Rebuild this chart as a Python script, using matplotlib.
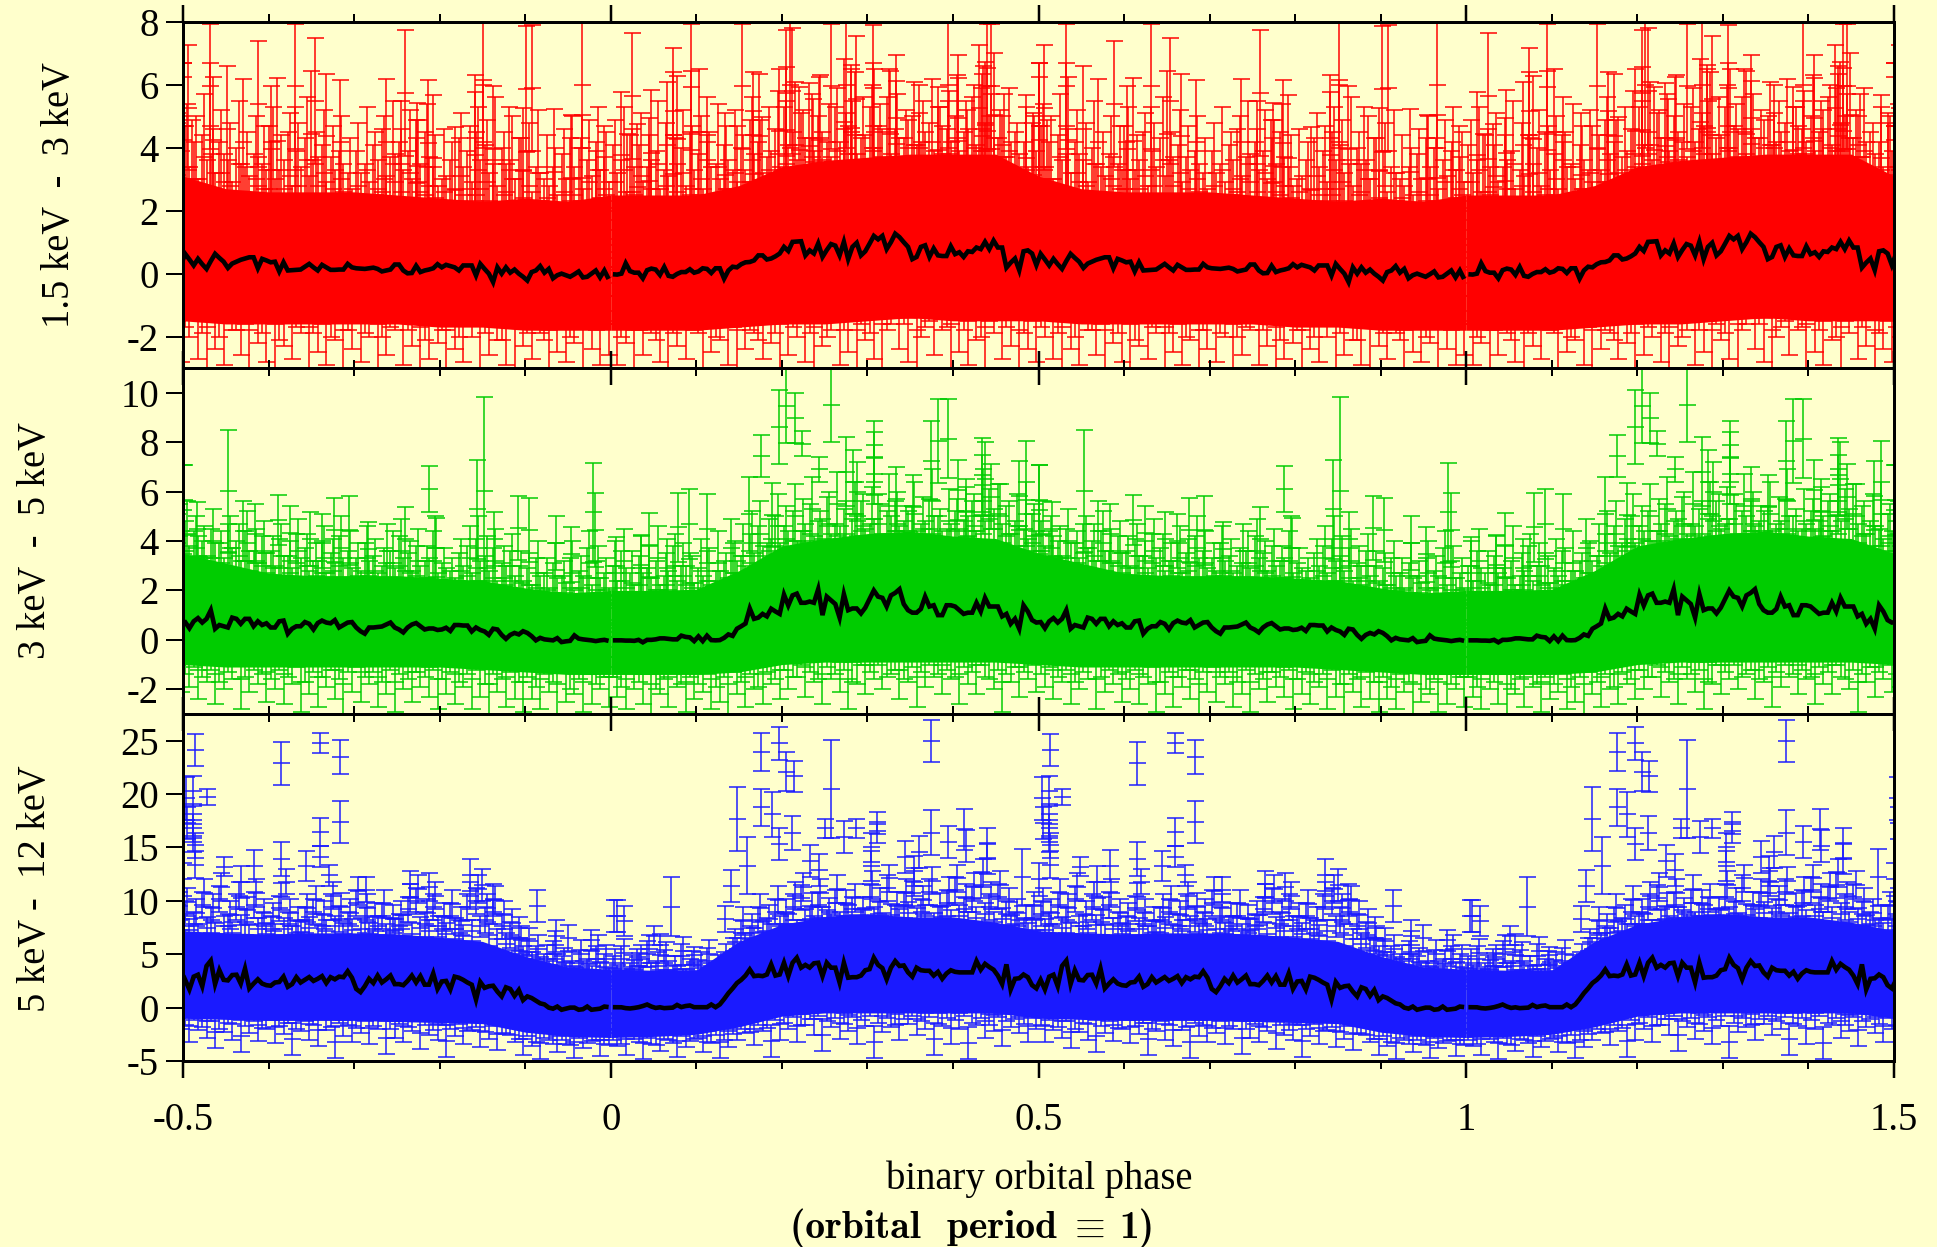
"""
Folded X-ray light curves in three energy bands, plotted over two orbital cycles.
The black lines and the isolated tall bars are read off the picture. The bars in
the dense mesh cannot be told apart there, so those lists are estimated by eye
from the local height and density of the mesh.
"""

import numpy as np
import matplotlib
matplotlib.use("Agg")
import matplotlib.pyplot as plt

plt.rcParams["font.family"] = ["Liberation Serif", "DejaVu Serif"]
plt.rcParams["mathtext.fontset"] = "cm"
plt.rcParams["axes.unicode_minus"] = False

# ─────────────────────────────────────────────
# Data (one orbital cycle, the plot repeats it)
# ─────────────────────────────────────────────
bin_phase = np.arange(200) * 0.005 + 0.0025

red_line = [
    -0.02, -0.03, 0.0, 0.33, 0.08, 0.03, 0.03, -0.15, 0.11, 0.16,
    0.13, -0.04, 0.21, -0.07, -0.10, -0.01, 0.05, 0.05, 0.14, 0.03,
    0.07, 0.17, 0.15, 0.02, 0.17, 0.17, -0.16, 0.10, 0.22, 0.20,
    0.30, 0.36, 0.37, 0.42, 0.58, 0.58, 0.45, 0.48, 0.55, 0.64,
    0.85, 0.72, 1.01, 1.02, 1.03, 0.58, 0.74, 0.64, 0.96, 0.53,
    0.75, 0.94, 0.89, 0.58, 1.01, 0.46, 0.85, 0.98, 0.58, 0.71,
    0.95, 1.20, 1.09, 1.20, 0.78, 1.00, 1.27, 1.16, 1.00, 0.85,
    0.46, 0.53, 0.85, 0.90, 0.53, 0.80, 0.58, 0.56, 0.56, 0.87,
    0.62, 0.68, 0.53, 0.71, 0.69, 0.83, 0.78, 1.01, 0.78, 1.05,
    0.83, 0.83, 0.19, 0.35, 0.48, 0.11, 0.71, 0.74, 0.64, 0.27,
    0.63, 0.45, 0.26, 0.47, 0.30, 0.15, 0.40, 0.63, 0.50, 0.38,
    0.18, 0.32, 0.38, 0.44, 0.48, 0.52, 0.52, 0.17, 0.47, 0.42,
    0.36, 0.38, 0.07, 0.36, 0.10, 0.11, 0.12, 0.13, 0.22, 0.31,
    0.20, 0.10, 0.28, 0.20, 0.12, 0.12, 0.13, 0.13, 0.31, 0.20,
    0.17, 0.16, 0.15, 0.17, 0.19, 0.15, 0.07, 0.10, 0.13, 0.29,
    0.29, 0.10, 0.01, 0.02, 0.25, 0.05, 0.10, 0.13, 0.17, 0.30,
    0.20, 0.28, 0.24, 0.20, 0.10, 0.26, 0.26, 0.26, -0.06, 0.31,
    0.15, 0.0, -0.27, 0.20, 0.0, 0.20, 0.03, 0.13, 0.0, -0.10,
    -0.22, 0.05, 0.10, 0.24, 0.03, 0.15, -0.15, -0.05, 0.0, -0.05,
    -0.10, -0.02, 0.07, -0.12, -0.10, 0.0, 0.10, -0.12, 0.10, -0.17,
]
green_line = [
    -0.02, -0.02, -0.02, -0.03, -0.03, -0.04, 0.0, -0.10, 0.0, 0.0,
    0.02, 0.06, 0.06, 0.04, 0.02, 0.02, 0.17, 0.12, 0.10, -0.05,
    0.14, -0.05, 0.17, -0.01, -0.02, -0.01, 0.08, 0.22, 0.16, 0.45,
    0.55, 0.66, 1.27, 0.85, 0.90, 1.05, 0.95, 1.26, 1.15, 1.05,
    1.83, 1.39, 1.80, 1.87, 1.50, 1.50, 1.55, 1.50, 2.05, 1.00,
    1.75, 1.60, 1.45, 0.90, 1.85, 1.20, 1.27, 1.27, 1.07, 1.30,
    1.65, 2.00, 1.75, 1.70, 1.35, 1.80, 1.90, 2.05, 1.45, 1.20,
    1.10, 1.10, 1.25, 1.75, 1.35, 1.40, 1.00, 1.00, 1.40, 1.40,
    1.35, 1.20, 1.05, 1.10, 1.10, 1.50, 1.15, 1.70, 1.35, 1.35,
    1.35, 0.95, 1.05, 0.65, 0.85, 0.45, 1.40, 1.15, 0.80, 0.70,
    0.72, 0.47, 0.75, 0.88, 0.70, 0.85, 1.20, 0.45, 0.60, 0.55,
    0.50, 0.90, 0.85, 0.65, 0.85, 0.85, 0.55, 0.75, 0.60, 0.67,
    0.50, 0.50, 0.75, 0.78, 0.25, 0.45, 0.55, 0.55, 0.72, 0.65,
    0.42, 0.68, 0.78, 0.70, 0.67, 0.80, 0.50, 0.60, 0.70, 0.72,
    0.50, 0.35, 0.25, 0.50, 0.50, 0.52, 0.54, 0.62, 0.70, 0.50,
    0.42, 0.30, 0.50, 0.62, 0.68, 0.55, 0.42, 0.46, 0.46, 0.40,
    0.42, 0.49, 0.36, 0.60, 0.60, 0.58, 0.58, 0.34, 0.50, 0.40,
    0.34, 0.20, 0.45, 0.42, 0.20, 0.04, 0.20, 0.28, 0.22, 0.35,
    0.28, 0.15, -0.02, 0.08, 0.02, 0.0, -0.02, 0.07, -0.09, -0.06,
    -0.04, 0.18, 0.05, 0.02, 0.0, -0.02, -0.05, -0.02, 0.0, -0.04,
]
blue_line = [
    0.04, 0.04, 0.03, -0.05, -0.08, -0.03, 0.04, 0.15, 0.29, 0.10,
    -0.03, 0.03, -0.05, -0.03, 0.0, 0.25, 0.05, 0.15, 0.20, 0.04,
    0.04, 0.04, 0.04, 0.29, 0.04, 0.30, 0.80, 1.35, 1.80, 2.30,
    2.60, 3.00, 3.57, 2.95, 3.00, 2.95, 3.10, 4.05, 3.00, 3.10,
    4.20, 2.95, 4.20, 4.67, 3.74, 4.00, 3.75, 4.15, 4.20, 2.95,
    4.20, 3.74, 3.74, 2.35, 4.20, 2.80, 2.85, 2.85, 3.00, 3.50,
    3.60, 4.67, 4.00, 3.70, 2.65, 3.74, 4.36, 3.90, 3.95, 3.30,
    2.90, 3.74, 3.50, 3.45, 3.45, 3.00, 3.35, 2.70, 3.20, 3.50,
    3.35, 3.30, 3.30, 3.30, 3.30, 4.36, 3.55, 4.10, 3.80, 3.55,
    3.00, 2.20, 4.05, 1.70, 2.70, 2.75, 3.10, 2.85, 2.10, 1.80,
    2.60, 1.70, 2.90, 3.08, 2.00, 3.90, 4.40, 2.20, 3.50, 2.60,
    2.55, 3.05, 3.08, 2.25, 3.65, 1.80, 2.25, 2.65, 2.25, 2.10,
    2.05, 2.35, 2.40, 2.90, 1.95, 2.20, 2.85, 2.35, 2.60, 2.86,
    2.50, 2.70, 2.95, 2.30, 2.85, 2.65, 2.90, 2.85, 3.40, 2.80,
    1.75, 1.45, 2.00, 2.70, 2.30, 3.00, 2.35, 2.65, 3.00, 2.20,
    2.20, 2.10, 2.50, 3.00, 2.35, 2.95, 2.15, 2.15, 3.20, 1.75,
    2.45, 2.50, 1.70, 2.90, 2.80, 2.60, 2.35, 2.15, 0.75, 2.40,
    1.85, 2.00, 2.05, 1.50, 1.05, 1.90, 1.75, 1.10, 1.65, 0.70,
    1.05, 0.90, 0.65, 0.40, 0.30, 0.0, -0.10, 0.10, -0.20, -0.10,
    0.0, 0.0, -0.20, -0.15, 0.10, -0.20, -0.15, -0.10, 0.10, 0.05,
]

# the solid part of each band, every 0.05 in phase
core_phase = [0.0, 0.05, 0.1, 0.15, 0.2, 0.25, 0.3, 0.35, 0.4, 0.45, 0.5,
              0.55, 0.6, 0.65, 0.7, 0.75, 0.8, 0.85, 0.9, 0.95, 1.0]
red_core_hi = [2.5, 2.5, 2.5, 2.8, 3.4, 3.6, 3.7, 3.8, 3.8, 3.8, 3.1,
               2.7, 2.6, 2.6, 2.6, 2.5, 2.4, 2.3, 2.4, 2.3, 2.5]
red_core_lo = [-1.8, -1.8, -1.8, -1.7, -1.6, -1.6, -1.5, -1.4, -1.5, -1.5, -1.5,
               -1.6, -1.6, -1.6, -1.6, -1.6, -1.7, -1.7, -1.8, -1.8, -1.8]
green_core_hi = [2.0, 2.0, 2.05, 2.8, 3.8, 4.1, 4.3, 4.4, 4.2, 4.1, 3.5,
                 3.1, 2.7, 2.6, 2.6, 2.6, 2.5, 2.4, 2.1, 1.9, 2.0]
green_core_lo = [-1.4, -1.4, -1.4, -1.3, -1.0, -0.9, -0.9, -0.9, -0.9, -0.9, -1.0,
                 -1.1, -1.1, -1.1, -1.1, -1.1, -1.1, -1.2, -1.3, -1.4, -1.4]
blue_core_hi = [3.6, 3.5, 3.5, 6.2, 7.8, 8.5, 8.8, 8.5, 8.5, 8.0, 7.2,
                7.0, 6.9, 7.0, 7.0, 6.9, 6.6, 6.2, 4.8, 3.8, 3.6]
blue_core_lo = [-2.8, -2.7, -2.5, -1.8, -0.8, -0.5, -0.5, -0.5, -0.5, -0.5, -1.0,
                -1.1, -1.2, -1.2, -1.2, -1.3, -1.4, -1.5, -2.3, -2.7, -2.8]

# tall bars that stand clear of the mesh: phase, top end, half length
red_tall_x = [
    0.012, 0.019, 0.025, 0.031, 0.045, 0.047, 0.066, 0.073, 0.073, 0.078, 0.094, 0.094,
    0.103, 0.113, 0.113, 0.134, 0.147, 0.153, 0.166, 0.166, 0.173, 0.177, 0.197, 0.205,
    0.205, 0.209, 0.212, 0.22, 0.232, 0.236, 0.244, 0.258, 0.273, 0.275, 0.281, 0.281,
    0.287, 0.306, 0.306, 0.308, 0.327, 0.333, 0.333, 0.36, 0.36, 0.382, 0.394, 0.394,
    0.406, 0.406, 0.417, 0.431, 0.434, 0.44, 0.437, 0.445, 0.44, 0.448, 0.46, 0.485,
    0.493, 0.5, 0.5, 0.5, 0.506, 0.51, 0.532, 0.532, 0.535, 0.552, 0.57, 0.588,
    0.6, 0.603, 0.61, 0.631, 0.631, 0.65, 0.654, 0.667, 0.684, 0.737, 0.755, 0.759,
    0.772, 0.774, 0.786, 0.792, 0.818, 0.841, 0.841, 0.851, 0.851, 0.862, 0.881, 0.898,
    0.901, 0.908, 0.934, 0.954, 0.966, 0.966, 0.983, 0.992,
]
red_tall_hi = [
    5.78, 4.45, 7.66, 4.75, 4.95, 5.85, 6.10, 7.17, 6.40, 6.28, 7.93, 6.44,
    6.50, 5.62, 4.20, 5.12, 4.70, 7.95, 6.40, 5.16, 6.36, 4.98, 6.52, 7.74,
    6.57, 8.00, 7.80, 5.93, 6.07, 5.56, 6.25, 7.95, 6.83, 8.00, 6.64, 6.50,
    7.55, 7.90, 6.70, 6.50, 6.44, 6.96, 6.13, 6.00, 5.10, 5.93, 8.00, 5.48,
    6.96, 6.22, 5.20, 7.26, 6.36, 7.95, 6.73, 7.95, 6.54, 7.03, 5.72, 5.67,
    5.12, 6.70, 6.69, 6.24, 7.28, 4.87, 7.95, 6.69, 6.24, 6.60, 6.18, 7.40,
    4.70, 5.96, 6.23, 7.95, 5.30, 6.43, 7.48, 6.36, 6.17, 6.20, 5.50, 7.73,
    4.87, 5.43, 6.15, 5.69, 4.66, 6.30, 5.77, 8.00, 6.17, 5.97, 5.30, 5.26,
    7.87, 7.90, 5.24, 5.03, 8.00, 5.03, 4.20, 4.70,
]
RED_ERR = 2.0

green_tall_x = [
    0.006, 0.035, 0.045, 0.066, 0.079, 0.092, 0.113, 0.14, 0.162, 0.176, 0.188, 0.197,
    0.205, 0.215, 0.223, 0.244, 0.258, 0.275, 0.283, 0.288, 0.308, 0.308, 0.308, 0.333,
    0.353, 0.374, 0.382, 0.394, 0.406, 0.415, 0.434, 0.437, 0.434, 0.477, 0.485, 0.501,
    0.5, 0.516, 0.553, 0.57, 0.584, 0.611, 0.625, 0.648, 0.662, 0.676, 0.694, 0.716,
    0.739, 0.759, 0.787, 0.796, 0.844, 0.852, 0.863, 0.891, 0.904, 0.936, 0.953, 0.979,
    0.982,
]
green_tall_hi = [
    4.18, 4.23, 5.14, 4.10, 5.95, 6.09, 5.89, 4.90, 6.59, 8.30, 6.36, 10.1,
    10.97, 9.98, 8.44, 7.40, 11.0, 8.20, 7.70, 7.20, 8.85, 8.40, 7.90, 7.00,
    6.68, 8.85, 9.76, 9.73, 7.26, 6.18, 8.17, 8.00, 7.46, 7.23, 8.04, 7.06,
    7.06, 5.57, 8.48, 5.60, 5.50, 5.88, 5.41, 5.17, 5.10, 5.74, 5.84, 4.77,
    4.70, 5.37, 7.02, 4.93, 7.29, 9.83, 5.17, 5.82, 5.75, 5.03, 4.56, 7.17,
    5.94,
]
green_tall_err = [
    1.2, 1.2, 1.3, 1.2, 1.4, 1.4, 1.4, 1.2, 1.5, 0.85, 1.3, 1.5,
    1.5, 1.0, 0.5, 0.5, 1.5, 1.4, 1.3, 1.2, 1.5, 1.0, 1.2, 1.3,
    1.3, 1.6, 1.7, 1.6, 1.2, 1.0, 1.5, 1.5, 1.2, 1.4, 2.4, 1.4,
    1.8, 1.1, 2.46, 1.2, 1.2, 1.02, 1.1, 1.1, 1.1, 1.3, 1.4, 1.1,
    1.1, 1.3, 0.92, 1.2, 2.0, 3.8, 1.1, 1.3, 1.3, 1.1, 1.1, 2.0,
    1.5,
]

blue_tall_x = [
    0.004, 0.007, 0.016, 0.031, 0.051, 0.057, 0.071, 0.097, 0.134, 0.14, 0.147, 0.159,
    0.176, 0.176, 0.188, 0.197, 0.197, 0.205, 0.212, 0.214, 0.233, 0.244, 0.251, 0.258,
    0.273, 0.287, 0.304, 0.304, 0.311, 0.311, 0.344, 0.354, 0.36, 0.374, 0.374, 0.394,
    0.413, 0.415, 0.44, 0.44, 0.481, 0.5, 0.504, 0.505, 0.512, 0.512, 0.512, 0.512,
    0.514, 0.514, 0.514, 0.528, 0.548, 0.568, 0.583, 0.615, 0.615, 0.62, 0.644, 0.66,
    0.66, 0.66, 0.671, 0.683, 0.683, 0.714, 0.765, 0.788, 0.835, 0.85, 0.862, 0.893,
    0.914, 0.936, 0.95, 0.977,
]
blue_tall_hi = [
    10.05, 10.1, 9.5, 5.5, 7.65, 6.9, 12.2, 5.7, 9.5, 12.9, 20.7, 16.0,
    25.7, 20.5, 20.2, 26.3, 16.8, 23.9, 17.9, 23.1, 15.25, 14.4, 17.7, 25.1,
    17.45, 17.7, 16.4, 14.7, 18.3, 17.2, 15.6, 14.2, 16.1, 26.9, 18.5, 17.0,
    18.6, 16.6, 16.8, 15.3, 14.9, 13.5, 21.6, 18.75, 21.7, 19.1, 18.1, 17.2,
    25.65, 16.4, 14.7, 20.5, 14.1, 13.3, 14.8, 24.87, 15.5, 13.0, 14.7, 25.74,
    17.75, 15.15, 13.4, 25.1, 19.38, 12.25, 12.8, 12.6, 13.9, 12.95, 11.55, 8.5,
    11.0, 8.25, 7.7, 7.3,
]
blue_tall_err = [
    1.5, 1.5, 1.4, 0.8, 0.9, 1.0, 2.75, 0.8, 1.2, 1.5, 3.0, 2.7,
    1.75, 1.75, 2.1, 1.55, 1.5, 1.8, 1.55, 1.45, 1.5, 1.5, 0.9, 4.6,
    1.5, 0.9, 1.4, 1.4, 0.9, 0.9, 1.5, 1.4, 1.5, 1.95, 2.1, 1.5,
    1.9, 1.5, 1.4, 1.4, 2.7, 1.5, 2.0, 1.5, 1.4, 1.5, 1.3, 1.3,
    1.5, 1.2, 1.3, 0.78, 0.9, 1.5, 1.5, 2.0, 1.6, 1.2, 1.4, 0.95,
    1.3, 1.0, 1.0, 1.63, 1.96, 1.2, 1.2, 1.3, 1.5, 1.5, 1.5, 1.0,
    1.5, 1.5, 1.2, 1.0,
]

# top ends of the mesh bars, one per 0.01 in phase
red_mesh_hi = [
    4.1, 3.6, 4.4, 4.1, 3.4, 3.9, 3.3, 4.4, 4.0, 4.5,
    3.8, 4.4, 3.5, 4.1, 3.3, 4.0, 4.9, 4.2, 3.7, 4.6,
    5.3, 4.5, 5.1, 4.3, 5.0, 4.2, 5.3, 4.6, 5.5, 4.3,
    5.3, 4.7, 5.6, 4.6, 4.3, 5.0, 4.2, 4.8, 5.3, 4.6,
    5.0, 4.5, 5.6, 5.9, 5.0, 4.3, 3.7, 4.5, 4.2, 4.8,
    4.7, 4.2, 4.4, 3.8, 4.2, 3.6, 4.0, 3.4, 3.8, 3.5,
    4.2, 3.3, 4.5, 3.9, 4.3, 3.6, 4.1, 3.7, 3.9, 3.2,
    3.9, 3.5, 4.1, 4.6, 3.7, 4.2, 3.9, 4.3, 4.5, 3.4,
    3.0, 3.6, 4.3, 3.9, 4.5, 4.1, 3.5, 4.0, 3.6, 4.3,
    3.9, 3.4, 3.0, 3.4, 3.8, 4.3, 4.0, 3.6, 3.9, 3.7,
]
red_mesh2_hi = [
    3.2, 2.6, 3.4, 2.9, 3.6, 2.7, 3.1, 3.5, 2.8, 3.3,
    2.7, 3.4, 3.0, 3.6, 2.9, 3.3, 3.8, 3.2, 3.9, 3.4,
    4.1, 3.6, 4.3, 3.9, 4.5, 3.7, 4.2, 4.7, 3.8, 4.4,
    4.0, 4.6, 3.8, 4.3, 4.9, 4.1, 4.5, 3.9, 4.7, 4.2,
    3.9, 4.6, 4.1, 4.8, 4.3, 5.0, 4.2, 3.8, 3.4, 3.9,
    3.4, 3.0, 3.6, 3.2, 3.8, 2.9, 3.5, 3.1, 3.7, 3.3,
    3.0, 3.6, 2.8, 3.4, 3.1, 3.7, 2.9, 3.3, 3.5, 2.7,
    3.2, 2.9, 3.6, 3.1, 3.8, 3.3, 3.0, 3.5, 3.7, 2.8,
    3.1, 2.7, 3.4, 2.9, 3.6, 3.2, 2.8, 3.5, 3.0, 3.3,
    2.6, 3.2, 2.8, 2.5, 3.0, 3.4, 2.7, 3.1, 3.3, 2.9,
]
red_mesh3_hi = [
    4.9, 5.3, 4.6, 5.1, 4.4, 5.5, 4.8, 4.3, 5.2, 4.7,
    5.0, 4.5, 5.4, 4.7, 5.2, 4.4, 5.6, 4.9, 5.3, 5.8,
    5.5, 6.1, 5.2, 5.7, 6.3, 5.4, 5.9, 5.1, 6.4, 5.6,
    6.0, 5.4, 6.5, 5.7, 5.2, 6.1, 5.5, 6.2, 5.3, 5.8,
    6.3, 5.5, 6.0, 6.6, 5.7, 5.2, 5.9, 4.8, 5.3, 5.0,
    5.4, 5.0, 5.7, 4.6, 5.2, 4.8, 5.5, 4.5, 5.0, 4.7,
    5.3, 4.4, 5.1, 4.8, 5.6, 4.5, 5.2, 4.7, 5.0, 4.3,
    4.8, 5.3, 4.5, 5.0, 5.5, 4.6, 5.2, 4.9, 5.4, 4.4,
    4.6, 4.2, 5.1, 4.7, 5.3, 4.9, 5.6, 4.5, 5.0, 4.3,
    4.8, 5.2, 4.4, 4.0, 4.6, 5.0, 4.3, 4.9, 5.3, 4.5,
]
green_mesh_hi = [
    3.0, 3.6, 2.7, 3.4, 2.9, 3.2, 2.6, 3.8, 3.0, 3.5,
    2.9, 3.6, 2.8, 3.2, 3.9, 3.4, 4.3, 4.6, 3.9, 5.0,
    4.6, 5.2, 4.4, 5.5, 4.8, 5.8, 4.7, 5.3, 4.9, 5.6,
    4.7, 5.9, 5.2, 5.6, 4.8, 5.4, 4.7, 5.7, 5.0, 4.5,
    5.2, 4.8, 5.6, 5.0, 6.1, 6.3, 5.4, 4.8, 4.5, 5.1,
    4.8, 4.4, 4.0, 4.5, 3.9, 4.7, 4.0, 4.4, 3.6, 4.2,
    3.6, 4.1, 3.4, 4.3, 3.7, 3.2, 3.9, 3.5, 4.2, 3.6,
    3.3, 3.9, 3.4, 3.0, 3.6, 4.2, 3.5, 3.8, 3.2, 4.4,
    3.1, 2.8, 3.5, 3.8, 4.1, 3.4, 3.7, 3.1, 3.6, 3.0,
    2.9, 3.3, 2.7, 3.1, 2.6, 3.3, 2.8, 3.7, 3.2, 2.7,
]
green_mesh2_hi = [
    2.4, 2.9, 2.2, 2.7, 2.5, 2.2, 2.8, 2.4, 3.0, 2.3,
    2.6, 2.2, 2.8, 2.5, 3.2, 3.0, 3.5, 3.8, 4.1, 3.9,
    4.4, 4.0, 4.7, 4.2, 4.9, 4.3, 4.6, 4.1, 5.0, 4.5,
    4.9, 4.3, 5.0, 4.6, 5.2, 4.4, 4.8, 5.0, 4.4, 4.7,
    4.5, 5.0, 4.4, 4.8, 5.3, 4.7, 4.3, 4.6, 4.1, 4.4,
    3.8, 4.2, 3.4, 3.9, 3.3, 3.7, 3.2, 3.6, 3.1, 3.5,
    3.0, 3.4, 2.9, 3.3, 2.8, 3.2, 2.7, 3.1, 3.3, 2.9,
    2.8, 3.2, 2.7, 3.1, 2.9, 3.3, 2.8, 3.0, 3.3, 2.7,
    2.9, 2.5, 3.0, 2.7, 3.2, 2.8, 2.4, 3.0, 2.6, 2.4,
    2.2, 2.6, 2.1, 2.5, 2.3, 2.0, 2.6, 2.2, 2.5, 2.1,
]
green_mesh3_hi = [
    4.0, 4.5, 3.6, 4.2, 3.8, 4.6, 3.5, 4.3, 3.9, 3.4,
    4.1, 3.7, 4.4, 3.5, 4.0, 4.7, 5.2, 5.6, 4.9, 5.9,
    5.4, 6.3, 5.7, 6.6, 5.2, 6.0, 6.8, 5.6, 6.4, 5.9,
    6.2, 5.5, 6.7, 6.0, 5.4, 6.4, 5.8, 6.9, 5.3, 6.1,
    5.7, 6.5, 5.9, 6.9, 7.1, 6.3, 5.6, 5.9, 6.4, 5.5,
    5.6, 5.0, 4.6, 5.3, 4.4, 5.0, 4.7, 5.2, 4.5, 4.8,
    4.2, 4.7, 4.0, 4.9, 4.3, 3.9, 4.6, 4.1, 5.0, 4.4,
    3.9, 4.6, 4.1, 3.7, 4.4, 4.9, 4.0, 4.5, 3.8, 5.0,
    3.7, 3.3, 4.1, 4.6, 5.0, 4.2, 4.5, 3.8, 4.3, 3.6,
    3.5, 4.0, 3.3, 3.9, 3.2, 4.0, 3.4, 4.4, 3.8, 3.3,
]
blue_mesh_hi = [
    4.8, 5.8, 4.2, 5.1, 6.2, 4.4, 5.4, 4.0, 6.0, 4.6,
    4.5, 5.6, 4.2, 5.2, 6.5, 8.2, 7.6, 9.4, 8.4, 10.2,
    9.0, 10.6, 11.5, 9.5, 10.8, 9.1, 11.0, 9.8, 10.4, 9.2,
    11.6, 10.0, 12.4, 9.6, 10.8, 11.9, 10.2, 12.0, 9.5, 11.0,
    12.2, 10.4, 11.4, 12.7, 10.6, 11.6, 10.0, 9.0, 8.4, 9.6,
    10.0, 9.0, 10.8, 9.4, 11.4, 8.8, 10.6, 9.2, 10.8, 9.0,
    8.6, 10.5, 9.0, 8.2, 9.4, 10.2, 8.8, 10.6, 9.5, 9.0,
    11.0, 9.4, 8.6, 9.8, 8.4, 8.8, 10.4, 11.2, 9.0, 10.6,
    8.6, 9.8, 8.2, 10.6, 11.2, 9.4, 10.2, 8.8, 8.0, 6.5,
    6.4, 5.8, 5.0, 6.2, 4.8, 4.4, 5.4, 4.6, 5.8, 5.0,
]
blue_mesh2_hi = [
    4.0, 3.6, 4.5, 3.8, 4.2, 3.5, 4.4, 3.9, 3.6, 4.3,
    3.7, 4.2, 3.8, 5.0, 6.5, 7.0, 7.5, 8.1, 7.8, 8.6,
    8.8, 8.2, 9.2, 8.6, 9.4, 8.8, 9.0, 9.6, 8.7, 9.3,
    9.4, 8.9, 9.7, 9.2, 9.9, 9.3, 9.6, 8.9, 9.5, 9.1,
    9.6, 9.0, 9.4, 9.8, 9.0, 9.3, 8.7, 8.2, 7.9, 8.3,
    8.3, 7.8, 8.5, 7.9, 8.6, 8.0, 8.7, 7.7, 8.4, 7.9,
    7.8, 8.4, 7.6, 8.1, 8.5, 7.7, 8.2, 8.6, 7.9, 8.3,
    8.4, 7.9, 8.6, 7.8, 8.3, 8.7, 7.9, 8.5, 8.2, 8.6,
    7.9, 8.4, 7.7, 8.2, 8.6, 7.8, 7.4, 7.0, 6.4, 5.8,
    5.2, 4.7, 4.4, 5.0, 4.2, 3.8, 4.4, 3.9, 4.3, 3.7,
]
blue_mesh3_hi = [
    5.5, 6.4, 4.9, 5.9, 6.8, 5.2, 6.1, 4.8, 6.6, 5.3,
    5.2, 6.3, 4.9, 6.0, 7.4, 9.4, 8.8, 10.6, 9.6, 11.4,
    10.2, 11.8, 12.6, 10.7, 12.0, 10.3, 12.4, 11.0, 11.6, 10.4,
    12.8, 11.2, 13.4, 10.8, 12.0, 13.1, 11.4, 13.2, 10.7, 12.2,
    13.4, 11.6, 12.6, 13.9, 11.8, 12.8, 11.2, 10.2, 9.6, 10.8,
    11.2, 10.2, 12.0, 10.6, 12.6, 10.0, 11.8, 10.4, 12.0, 10.2,
    9.8, 11.7, 10.2, 9.4, 10.6, 11.4, 10.0, 11.8, 10.7, 10.2,
    12.2, 10.6, 9.8, 11.0, 9.6, 10.0, 11.6, 12.4, 10.2, 11.8,
    9.8, 11.0, 9.4, 11.8, 12.4, 10.6, 11.4, 10.0, 9.2, 7.6,
    7.5, 6.8, 5.9, 7.2, 5.6, 5.2, 6.3, 5.4, 6.8, 5.9,
]
RED_MESH2_ERR = 0.9
GREEN_MESH_ERR = 1.2
GREEN_MESH2_ERR = 0.8
GREEN_MESH3_ERR = 1.3
BLUE_MESH_ERR = 1.2
BLUE_MESH2_ERR = 1.0
BLUE_MESH3_ERR = 1.3

# bottom ends of the mesh bars, one per 0.01 in phase
red_low = [
    -2.9, -2.2, -3.2, -2.6, -1.9, -2.8, -3.1, -2.3, -2.7, -1.8,
    -3.0, -2.5, -2.1, -2.9, -3.2, -2.4, -1.9, -2.7, -2.2, -3.0,
    -2.6, -2.0, -2.8, -3.1, -2.3, -1.8, -2.9, -2.5, -3.2, -2.1,
    -2.7, -3.0, -1.6, -2.4, -2.8, -3.2, -1.7, -2.6, -1.8, -3.0,
    -2.5, -2.9, -2.1, -3.1, -1.9, -2.7, -2.3, -3.2, -2.4, -2.8,
    -2.0, -2.7, -3.1, -2.4, -2.9, -1.8, -2.6, -3.2, -2.2, -2.8,
    -3.0, -2.3, -2.7, -1.9, -3.1, -2.5, -2.9, -2.1, -3.2, -2.4,
    -2.8, -2.0, -3.0, -2.6, -1.8, -2.9, -2.3, -3.1, -2.7, -2.2,
    -3.2, -2.4, -2.8, -2.0, -3.0, -2.6, -2.1, -2.9, -3.1, -2.3,
    -2.7, -1.9, -3.2, -2.5, -2.8, -2.2, -3.0, -2.4, -2.9, -2.6,
]
red_low2 = [
    -1.6, -2.0, -1.3, -1.8, -1.5, -2.1, -1.4, -1.9, -1.7, -1.3,
    -1.9, -1.5, -2.0, -1.4, -1.7, -1.3, -1.8, -2.1, -1.5, -1.9,
    -1.3, -1.7, -1.2, -1.9, -1.5, -2.0, -1.4, -1.8, -1.3, -1.6,
    -1.9, -1.4, -1.8, -1.2, -1.6, -1.3, -2.0, -1.5, -1.2, -1.7,
    -1.4, -1.8, -1.3, -2.0, -1.5, -1.2, -1.7, -1.4, -1.9, -1.5,
    -1.7, -1.3, -1.9, -1.5, -2.0, -1.4, -1.8, -1.6, -1.3, -1.9,
    -1.5, -2.1, -1.4, -1.7, -1.3, -1.9, -1.6, -2.0, -1.4, -1.8,
    -1.3, -1.9, -1.5, -2.0, -1.7, -1.4, -1.8, -1.6, -2.1, -1.5,
    -1.8, -1.4, -2.0, -1.6, -1.3, -1.9, -1.5, -2.1, -1.7, -1.4,
    -1.9, -1.5, -2.1, -1.6, -1.4, -2.0, -1.7, -1.3, -1.8, -1.6,
]
green_low = [
    -2.3, -2.8, -2.0, -2.6, -3.0, -2.2, -2.7, -1.9, -2.9, -2.4,
    -2.1, -2.8, -2.5, -3.0, -2.2, -2.7, -2.0, -2.6, -1.8, -2.4,
    -2.0, -1.5, -2.3, -1.7, -2.6, -1.6, -2.1, -2.8, -1.8, -2.2,
    -1.6, -2.0, -1.4, -2.4, -1.7, -2.7, -1.9, -1.5, -2.2, -1.6,
    -2.6, -1.8, -2.2, -1.5, -2.0, -2.9, -1.7, -2.3, -1.6, -2.1,
    -1.9, -2.4, -1.7, -2.6, -2.0, -1.6, -2.8, -2.1, -1.8, -2.5,
    -2.0, -2.6, -1.8, -2.9, -2.2, -2.7, -1.9, -2.4, -3.0, -2.1,
    -2.5, -1.8, -2.7, -2.2, -2.9, -2.0, -2.5, -1.9, -2.3, -2.8,
    -2.2, -2.6, -1.9, -2.8, -2.3, -3.0, -2.1, -2.7, -2.4, -2.9,
    -2.4, -2.8, -2.1, -3.0, -2.5, -2.2, -2.9, -2.6, -2.0, -2.7,
]
green_low2 = [
    -1.5, -1.9, -1.3, -1.7, -1.4, -2.0, -1.6, -1.3, -1.8, -1.5,
    -1.8, -1.4, -1.9, -1.5, -1.3, -1.7, -1.4, -1.9, -1.3, -1.6,
    -1.2, -1.5, -1.0, -1.3, -1.6, -1.1, -1.4, -1.2, -1.7, -1.0,
    -1.3, -1.0, -1.5, -1.2, -1.6, -1.1, -1.3, -1.0, -1.4, -1.2,
    -1.5, -1.1, -1.3, -1.0, -1.6, -1.2, -1.4, -1.1, -1.3, -1.0,
    -1.4, -1.1, -1.5, -1.2, -1.7, -1.3, -1.0, -1.5, -1.2, -1.4,
    -1.6, -1.2, -1.5, -1.1, -1.7, -1.3, -1.5, -1.2, -1.6, -1.3,
    -1.1, -1.5, -1.3, -1.7, -1.2, -1.4, -1.6, -1.3, -1.5, -1.2,
    -1.6, -1.3, -1.7, -1.4, -1.2, -1.8, -1.4, -1.6, -1.3, -1.7,
    -1.5, -1.9, -1.4, -1.7, -1.3, -2.0, -1.6, -1.4, -1.8, -1.5,
]
blue_low = [
    -3.6, -4.4, -2.9, -4.8, -3.4, -4.1, -3.0, -4.6, -3.7, -2.9,
    -4.2, -3.3, -4.7, -3.7, -3.0, -2.4, -3.5, -2.2, -4.6, -3.0,
    -2.0, -3.2, -1.6, -2.6, -4.1, -1.8, -2.9, -2.2, -3.4, -1.7,
    -4.7, -2.3, -1.8, -3.0, -1.5, -2.6, -2.0, -4.4, -1.7, -3.4,
    -2.0, -4.8, -1.6, -2.8, -2.2, -3.6, -1.8, -2.4, -3.2, -2.0,
    -3.2, -2.1, -2.8, -3.8, -2.3, -3.0, -4.2, -2.4, -3.1, -2.0,
    -3.3, -2.5, -4.4, -2.2, -3.0, -3.6, -2.1, -4.7, -2.7, -3.2,
    -2.4, -3.4, -2.0, -4.3, -2.8, -3.2, -2.2, -3.9, -2.6, -3.0,
    -4.6, -2.7, -3.4, -2.1, -3.7, -2.9, -4.0, -2.5, -3.2, -4.4,
    -3.6, -4.8, -3.0, -4.2, -3.4, -4.7, -3.8, -3.1, -4.5, -3.5,
]
blue_low2 = [
    -3.0, -3.4, -2.7, -3.2, -2.8, -3.5, -2.9, -3.3, -2.7, -3.1,
    -2.8, -3.2, -2.6, -3.0, -2.5, -2.0, -2.3, -1.6, -1.9, -1.2,
    -1.4, -0.9, -1.6, -1.1, -0.8, -1.3, -1.0, -1.5, -0.9, -1.2,
    -0.8, -1.4, -1.0, -1.6, -1.1, -0.8, -1.3, -0.9, -1.5, -1.0,
    -1.2, -0.8, -1.4, -1.0, -1.6, -0.9, -1.3, -1.1, -1.5, -1.0,
    -1.6, -1.2, -1.8, -1.3, -2.0, -1.4, -1.1, -1.7, -1.3, -1.9,
    -1.2, -1.7, -1.4, -2.0, -1.3, -1.6, -1.1, -1.8, -1.4, -1.6,
    -1.9, -1.3, -1.7, -1.2, -2.0, -1.5, -1.8, -1.3, -1.6, -2.1,
    -1.6, -2.0, -1.5, -2.2, -1.8, -2.3, -1.7, -2.4, -2.6, -2.9,
    -2.7, -3.2, -2.8, -3.4, -3.0, -3.5, -2.8, -3.3, -3.0, -3.4,
]
RED_LOW_ERR = 1.4
RED_LOW2_ERR = 0.9
GREEN_LOW_ERR = 1.2
GREEN_LOW2_ERR = 0.8
BLUE_LOW_ERR = 1.5
BLUE_LOW2_ERR = 1.0

band_labels = ["1.5 keV  -  3 keV", "3 keV  -  5 keV", "5 keV -  12 keV"]
red_yticks = [8, 6, 4, 2, 0, -2]
green_yticks = [10, 8, 6, 4, 2, 0, -2]
blue_yticks = [25, 20, 15, 10, 5, 0, -5]
x_major = [-0.5, 0, 0.5, 1, 1.5]
x_labels = ["-0.5", "0", "0.5", "1", "1.5"]

# ─────────────────────────────────────────────
# Style
# ─────────────────────────────────────────────
W, H = 1937, 1247
BG = "#ffffcc"
RED, GREEN, BLUE = "#ff0000", "#00cc00", "#1a1aff"
LEFT, RIGHT = 183, 1894
TOPS = [22, 368, 714]
BOTTOMS = [368, 714, 1061]
PX = 0.72  # points per pixel at dpi 100
CYCLES = (-1, 0, 1)
TEXT_SIZE = 27.8
TITLE_SIZE = 28.5


def draw_bars(ax, x, y, err, color):
    x, y = np.asarray(x, float), np.asarray(y, float)
    for cycle in CYCLES:
        ax.errorbar(x + cycle, y, yerr=err, fmt="none", ecolor=color,
                    elinewidth=1.5 * PX, capsize=8.5 * PX, capthick=1.5 * PX)
        ax.plot(x + cycle, y, ls="none", marker="_", color=color,
                ms=17 * PX, mew=1.5 * PX)


def draw_panel(ax, color, core, tall, upper, lower, line):
    for cycle in CYCLES:
        ax.fill_between(np.array(core_phase) + cycle, core[1], core[0],
                        color=color, lw=0, zorder=2.5)
    tall_x, tall_hi, tall_err = tall
    draw_bars(ax, tall_x, np.array(tall_hi) - np.array(tall_err), tall_err, color)
    # each list sits on its own bins so the caps do not line up
    upper_grids = (bin_phase[::2], bin_phase[1::2], bin_phase[::2] + 0.0025)
    for grid, (hi, err) in zip(upper_grids, upper):
        draw_bars(ax, grid, np.array(hi) - err, err, color)
    for grid, (lo, err) in zip((bin_phase[1::2], bin_phase[::2]), lower):
        draw_bars(ax, grid, np.array(lo) + err, err, color)
    for cycle in CYCLES:
        ax.plot(bin_phase + cycle, line, color="black", lw=4.6 * PX, zorder=5,
                solid_capstyle="butt", solid_joinstyle="miter")


# ─────────────────────────────────────────────
# Figure
# ─────────────────────────────────────────────
fig = plt.figure(figsize=(W / 100, H / 100), dpi=100, facecolor=BG)
axes = []
for top, bottom in zip(TOPS, BOTTOMS):
    ax = fig.add_axes([LEFT / W, 1 - bottom / H, (RIGHT - LEFT) / W, (bottom - top) / H])
    ax.set_facecolor("none")
    axes.append(ax)

draw_panel(axes[0], RED, (red_core_hi, red_core_lo),
           (red_tall_x, red_tall_hi, [RED_ERR] * len(red_tall_x)),
           [(red_mesh_hi, RED_ERR), (red_mesh2_hi, RED_MESH2_ERR), (red_mesh3_hi, RED_ERR)],
           [(red_low, RED_LOW_ERR), (red_low2, RED_LOW2_ERR)], red_line)
draw_panel(axes[1], GREEN, (green_core_hi, green_core_lo),
           (green_tall_x, green_tall_hi, green_tall_err),
           [(green_mesh_hi, GREEN_MESH_ERR), (green_mesh2_hi, GREEN_MESH2_ERR),
            (green_mesh3_hi, GREEN_MESH3_ERR)],
           [(green_low, GREEN_LOW_ERR), (green_low2, GREEN_LOW2_ERR)], green_line)
draw_panel(axes[2], BLUE, (blue_core_hi, blue_core_lo),
           (blue_tall_x, blue_tall_hi, blue_tall_err),
           [(blue_mesh_hi, BLUE_MESH_ERR), (blue_mesh2_hi, BLUE_MESH2_ERR),
            (blue_mesh3_hi, BLUE_MESH3_ERR)],
           [(blue_low, BLUE_LOW_ERR), (blue_low2, BLUE_LOW2_ERR)], blue_line)

limits = [(-3, 8), (-3, 11), (-5, 27.5)]
yticks = [red_yticks, green_yticks, blue_yticks]
for ax, lim, ticks in zip(axes, limits, yticks):
    ax.set_xlim(-0.5, 1.5)
    ax.set_ylim(*lim)
    ax.set_yticks(ticks)
    ax.set_yticklabels([str(t) for t in ticks], fontsize=TEXT_SIZE)
    ax.set_xticks(x_major)
    ax.set_xticks(np.arange(-5, 16) / 10, minor=True)
    ax.tick_params(axis="x", which="major", direction="out", length=17 * PX, width=2.5 * PX,
                   top=True, bottom=True, labelbottom=False, color="black", zorder=6)
    ax.tick_params(axis="x", which="minor", direction="out", length=8 * PX, width=2 * PX,
                   top=True, bottom=True, zorder=6)
    ax.tick_params(axis="y", direction="out", length=17 * PX, width=2 * PX, pad=5, zorder=6)
    ax.set_axisbelow(False)
    for side in ax.spines.values():
        side.set_linewidth(3 * PX)
        side.set_zorder(7)

axes[2].set_xticklabels(x_labels, fontsize=TEXT_SIZE)
axes[2].tick_params(axis="x", which="major", labelbottom=True, pad=17)

fig.text(59 / W, 1 - 195 / H, band_labels[0], rotation=90, ha="center", va="center", fontsize=TEXT_SIZE)
fig.text(36 / W, 1 - 541 / H, band_labels[1], rotation=90, ha="center", va="center", fontsize=TEXT_SIZE)
fig.text(36 / W, 1 - 889 / H, band_labels[2], rotation=90, ha="center", va="center", fontsize=TEXT_SIZE)
fig.text(1039 / W, 1 - 1179 / H, "binary orbital phase", ha="center", va="center", fontsize=TEXT_SIZE)

# three pieces: cmb10 has no identity sign
fig.text(790 / W, 1 - 1228 / H, "(orbital  period", family="cmb10", ha="left", va="center", fontsize=TITLE_SIZE)
fig.text(1087 / W, 1 - 1228 / H, r"$\equiv$", ha="center", va="center", fontsize=TITLE_SIZE)
fig.text(1119 / W, 1 - 1228 / H, "1)", family="cmb10", ha="left", va="center", fontsize=TITLE_SIZE)

fig.savefig("out.png", dpi=100, facecolor=BG)
